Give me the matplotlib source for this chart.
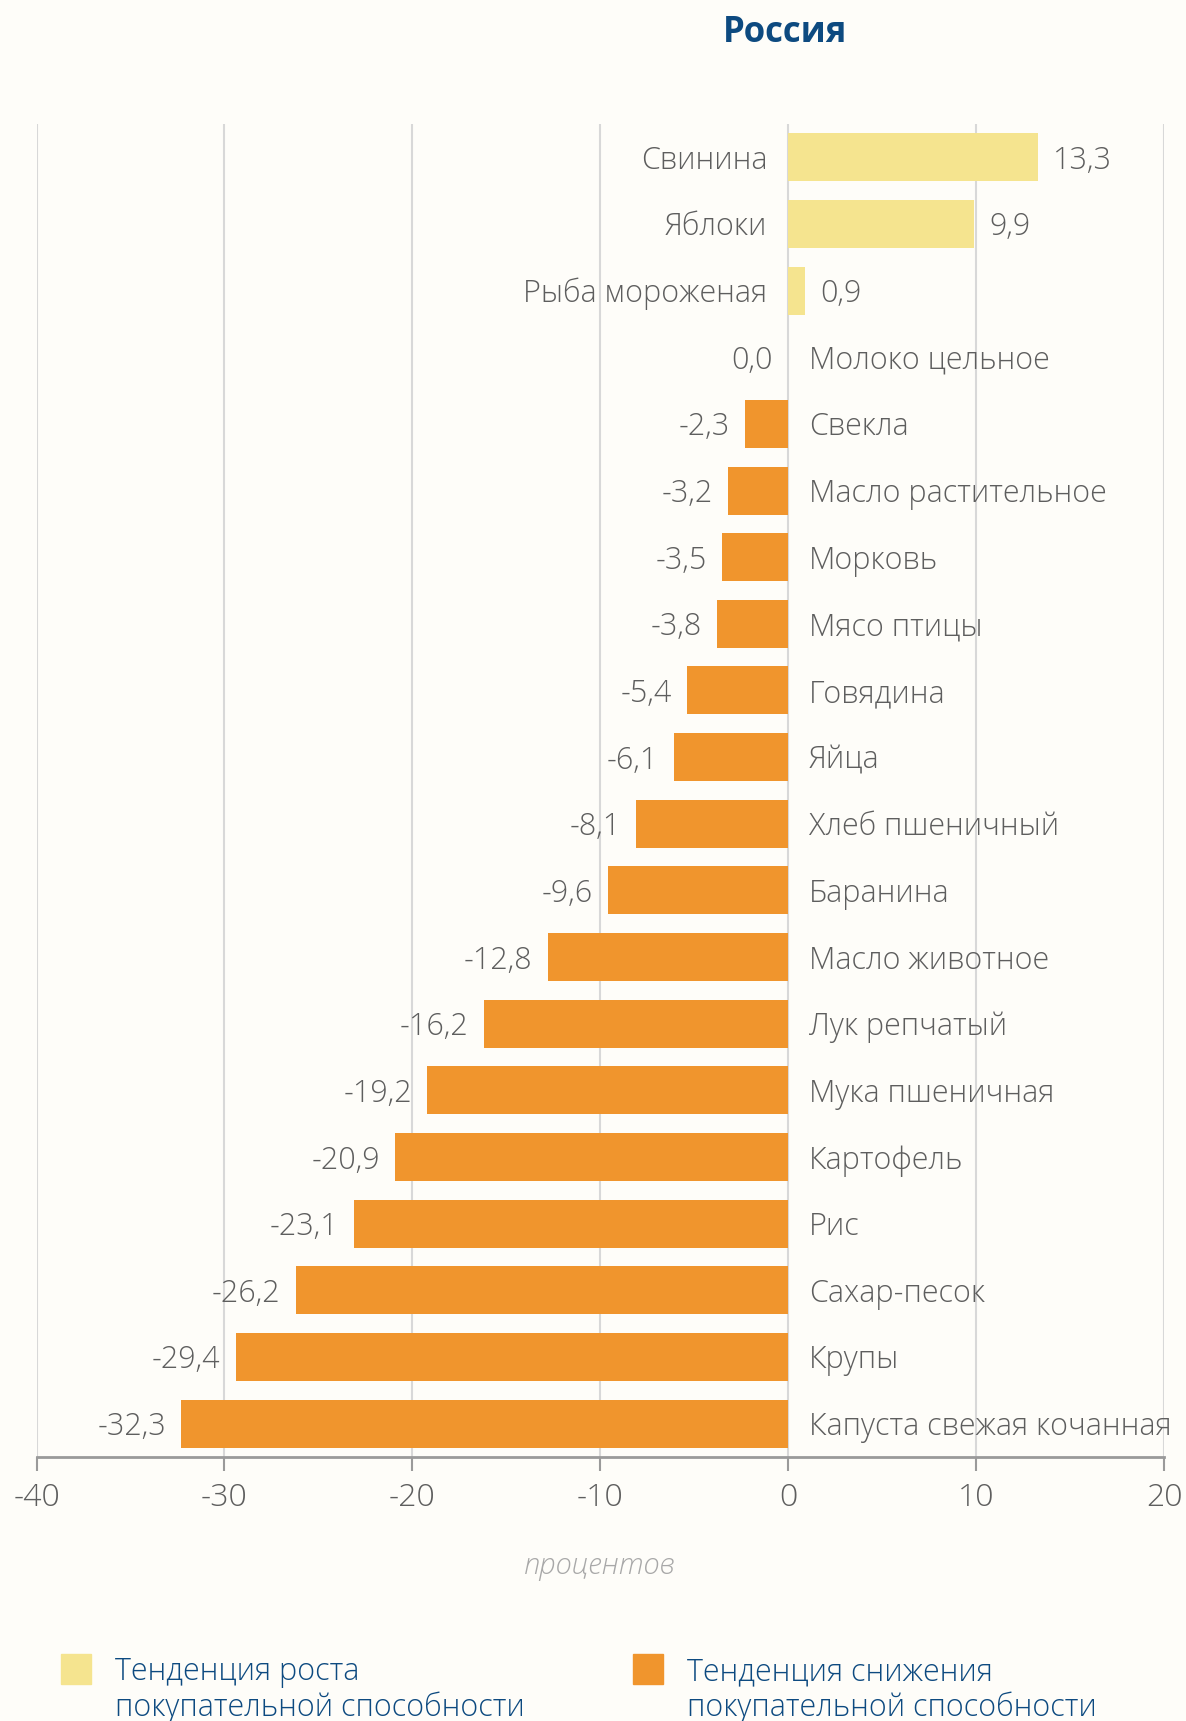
import matplotlib
matplotlib.use("Agg")
import matplotlib.pyplot as plt
from matplotlib.patches import Rectangle

plt.rcParams['font.family'] = ['Open Sans', 'DejaVu Sans']

categories = ['Свинина', 'Яблоки', 'Рыба мороженая', 'Молоко цельное', 'Свекла',
              'Масло растительное', 'Морковь', 'Мясо птицы', 'Говядина', 'Яйца',
              'Хлеб пшеничный', 'Баранина', 'Масло животное', 'Лук репчатый',
              'Мука пшеничная', 'Картофель', 'Рис', 'Сахар-песок', 'Крупы',
              'Капуста свежая кочанная']
values = [13.3, 9.9, 0.9, 0.0, -2.3, -3.2, -3.5, -3.8, -5.4, -6.1, -8.1, -9.6,
          -12.8, -16.2, -19.2, -20.9, -23.1, -26.2, -29.4, -32.3]
xticks = [-40, -30, -20, -10, 0, 10, 20]
legend_labels = ['Тенденция роста\nпокупательной способности',
                 'Тенденция снижения\nпокупательной способности']

bg = '#fefdf9'
yellow = '#f5e48f'
orange = '#f0952d'
blue = '#0d4a80'
gray = '#5e5e5e'
W = 'light'

fig = plt.figure(figsize=(11.86, 17.21), dpi=100, facecolor=bg)
ax = fig.add_axes([0.0308, 0.1534, 0.9507, 0.7746], facecolor=bg)

colors = [yellow if v > 0 else orange for v in values]
pos = list(range(len(values)))
ax.barh(pos, values, height=0.72, color=colors, zorder=3)

ax.set_ylim(len(values) - 0.5, -0.5)
ax.set_xlim(-40, 20)
ax.set_xticks(xticks)
ax.set_xticklabels([str(t) for t in xticks])
ax.set_yticks([])
ax.grid(axis='x', color='#d8d8d8', linewidth=1.5, zorder=0)
for s in ['top', 'right', 'left']:
    ax.spines[s].set_visible(False)
ax.spines['bottom'].set_color('#9a9a9a')
ax.spines['bottom'].set_linewidth(2)
ax.tick_params(axis='x', length=10, width=1.5, color='#9a9a9a', pad=8,
               labelsize=23, labelcolor=gray)
for lab in ax.get_xticklabels():
    lab.set_fontweight(W)

fs = 22
dy = -2.5
for i, (c, v) in enumerate(zip(categories, values)):
    txt = f'{v:.1f}'.replace('.', ',')
    if v > 0:
        ax.annotate(c, (0, i), xytext=(-15, dy), textcoords='offset points',
                    ha='right', va='center', fontsize=fs, color=gray, fontweight=W, zorder=4)
        ax.annotate(txt, (v, i), xytext=(11, dy), textcoords='offset points',
                    ha='left', va='center', fontsize=fs, color=gray, fontweight=W, zorder=4)
    else:
        ax.annotate(c, (0, i), xytext=(15, dy), textcoords='offset points',
                    ha='left', va='center', fontsize=fs, color=gray, fontweight=W, zorder=4)
        ax.annotate(txt, (v, i), xytext=(-11, dy), textcoords='offset points',
                    ha='right', va='center', fontsize=fs, color=gray, fontweight=W, zorder=4)

ax.set_xlabel('процентов', fontsize=21, color='#a8a8a8', style='italic',
              fontweight=W, labelpad=27)

fig.text(0.662, 0.981, 'Россия', ha='center', va='center', fontsize=25,
         fontweight='bold', color=blue)

# legend
Wpx, Hpx = 1186, 1721
for x0, col, lab in [(61, yellow, legend_labels[0]), (633, orange, legend_labels[1])]:
    fig.patches.append(Rectangle((x0 / Wpx, 1 - 1684 / Hpx), 30 / Wpx, 30 / Hpx,
                                 transform=fig.transFigure, color=col))
    fig.text((x0 + 54) / Wpx, 1 - 1656 / Hpx, lab, ha='left', va='top',
             fontsize=22, color=blue, fontweight=W, linespacing=1.14)

fig.savefig('out.png', dpi=100, facecolor=bg)
